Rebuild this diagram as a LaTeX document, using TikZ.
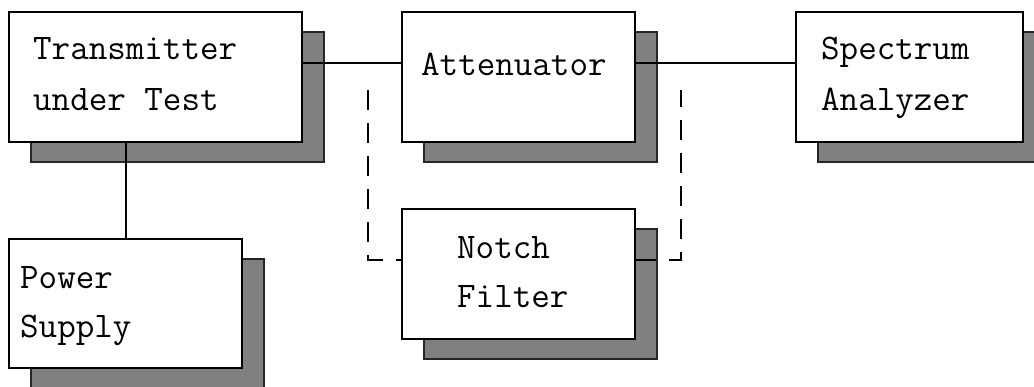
\documentclass[tikz,border=0pt]{standalone}
\usepackage{fontspec}
\usetikzlibrary{shadows}

\tikzset{
  block/.style={rectangle, draw=black, line width=2pt, fill=white, inner sep=0pt,
    general shadow={fill=black!50, draw=black!85, line width=2pt,
      shadow xshift=22pt, shadow yshift=-20pt}},
  blocktext/.style={anchor=base west, inner sep=0pt, align=left,
    font=\ttfamily\fontsize{36}{51}\selectfont},
  wire/.style={black, line width=2pt},
  bypass/.style={black, line width=2pt, dash pattern=on 20pt off 13pt},
}

\begin{document}
\begin{tikzpicture}[x=1pt, y=-1pt]
    \useasboundingbox (0,0) rectangle (1034,386);

    % boxes
    \node[block, minimum width=293pt, minimum height=130pt] (tx)  at (155.5,77)  {};
    \node[block, minimum width=233pt, minimum height=130pt] (att) at (518.5,77)  {};
    \node[block, minimum width=227pt, minimum height=130pt] (sa)  at (909.5,77)  {};
    \node[block, minimum width=233pt, minimum height=129pt] (ps)  at (125.5,303.5) {};
    \node[block, minimum width=233pt, minimum height=130pt] (nf)  at (518.5,274) {};

    % rows of the connectors
    \coordinate (rowtop) at (0,63);
    \coordinate (rowlow) at (0,260);
    \coordinate (bypassL) at (368,90);
    \coordinate (bypassR) at (681,90);

    % connectors
    \draw[wire] (tx.east |- rowtop) -- (att.west |- rowtop);
    \draw[wire] (att.east |- rowtop) -- (sa.west |- rowtop);
    \draw[wire] (ps.north) -- (ps.north |- tx.south);
    \draw[bypass] (bypassL) -- (bypassL |- rowlow) -- (nf.west |- rowlow);
    \draw[bypass] (nf.east |- rowlow) -- (bypassR |- rowlow) -- (bypassR);

    % labels (base = baseline of the last line)
    \node[blocktext] (tx-text)  at (33,110) {Transmitter\\under Test};
    \node[blocktext] (att-text) at (421,75) {Attenuator};
    \node[blocktext] (sa-text)  at (821,110) {Spectrum\\Analyzer};
    \node[blocktext, font=\ttfamily\fontsize{36}{49}\selectfont] (ps-text)  at (20,337) {Power\\Supply};
    \node[blocktext, font=\ttfamily\fontsize{36}{49}\selectfont] (nf-text)  at (457,307) {Notch\\Filter};
\end{tikzpicture}
\end{document}
